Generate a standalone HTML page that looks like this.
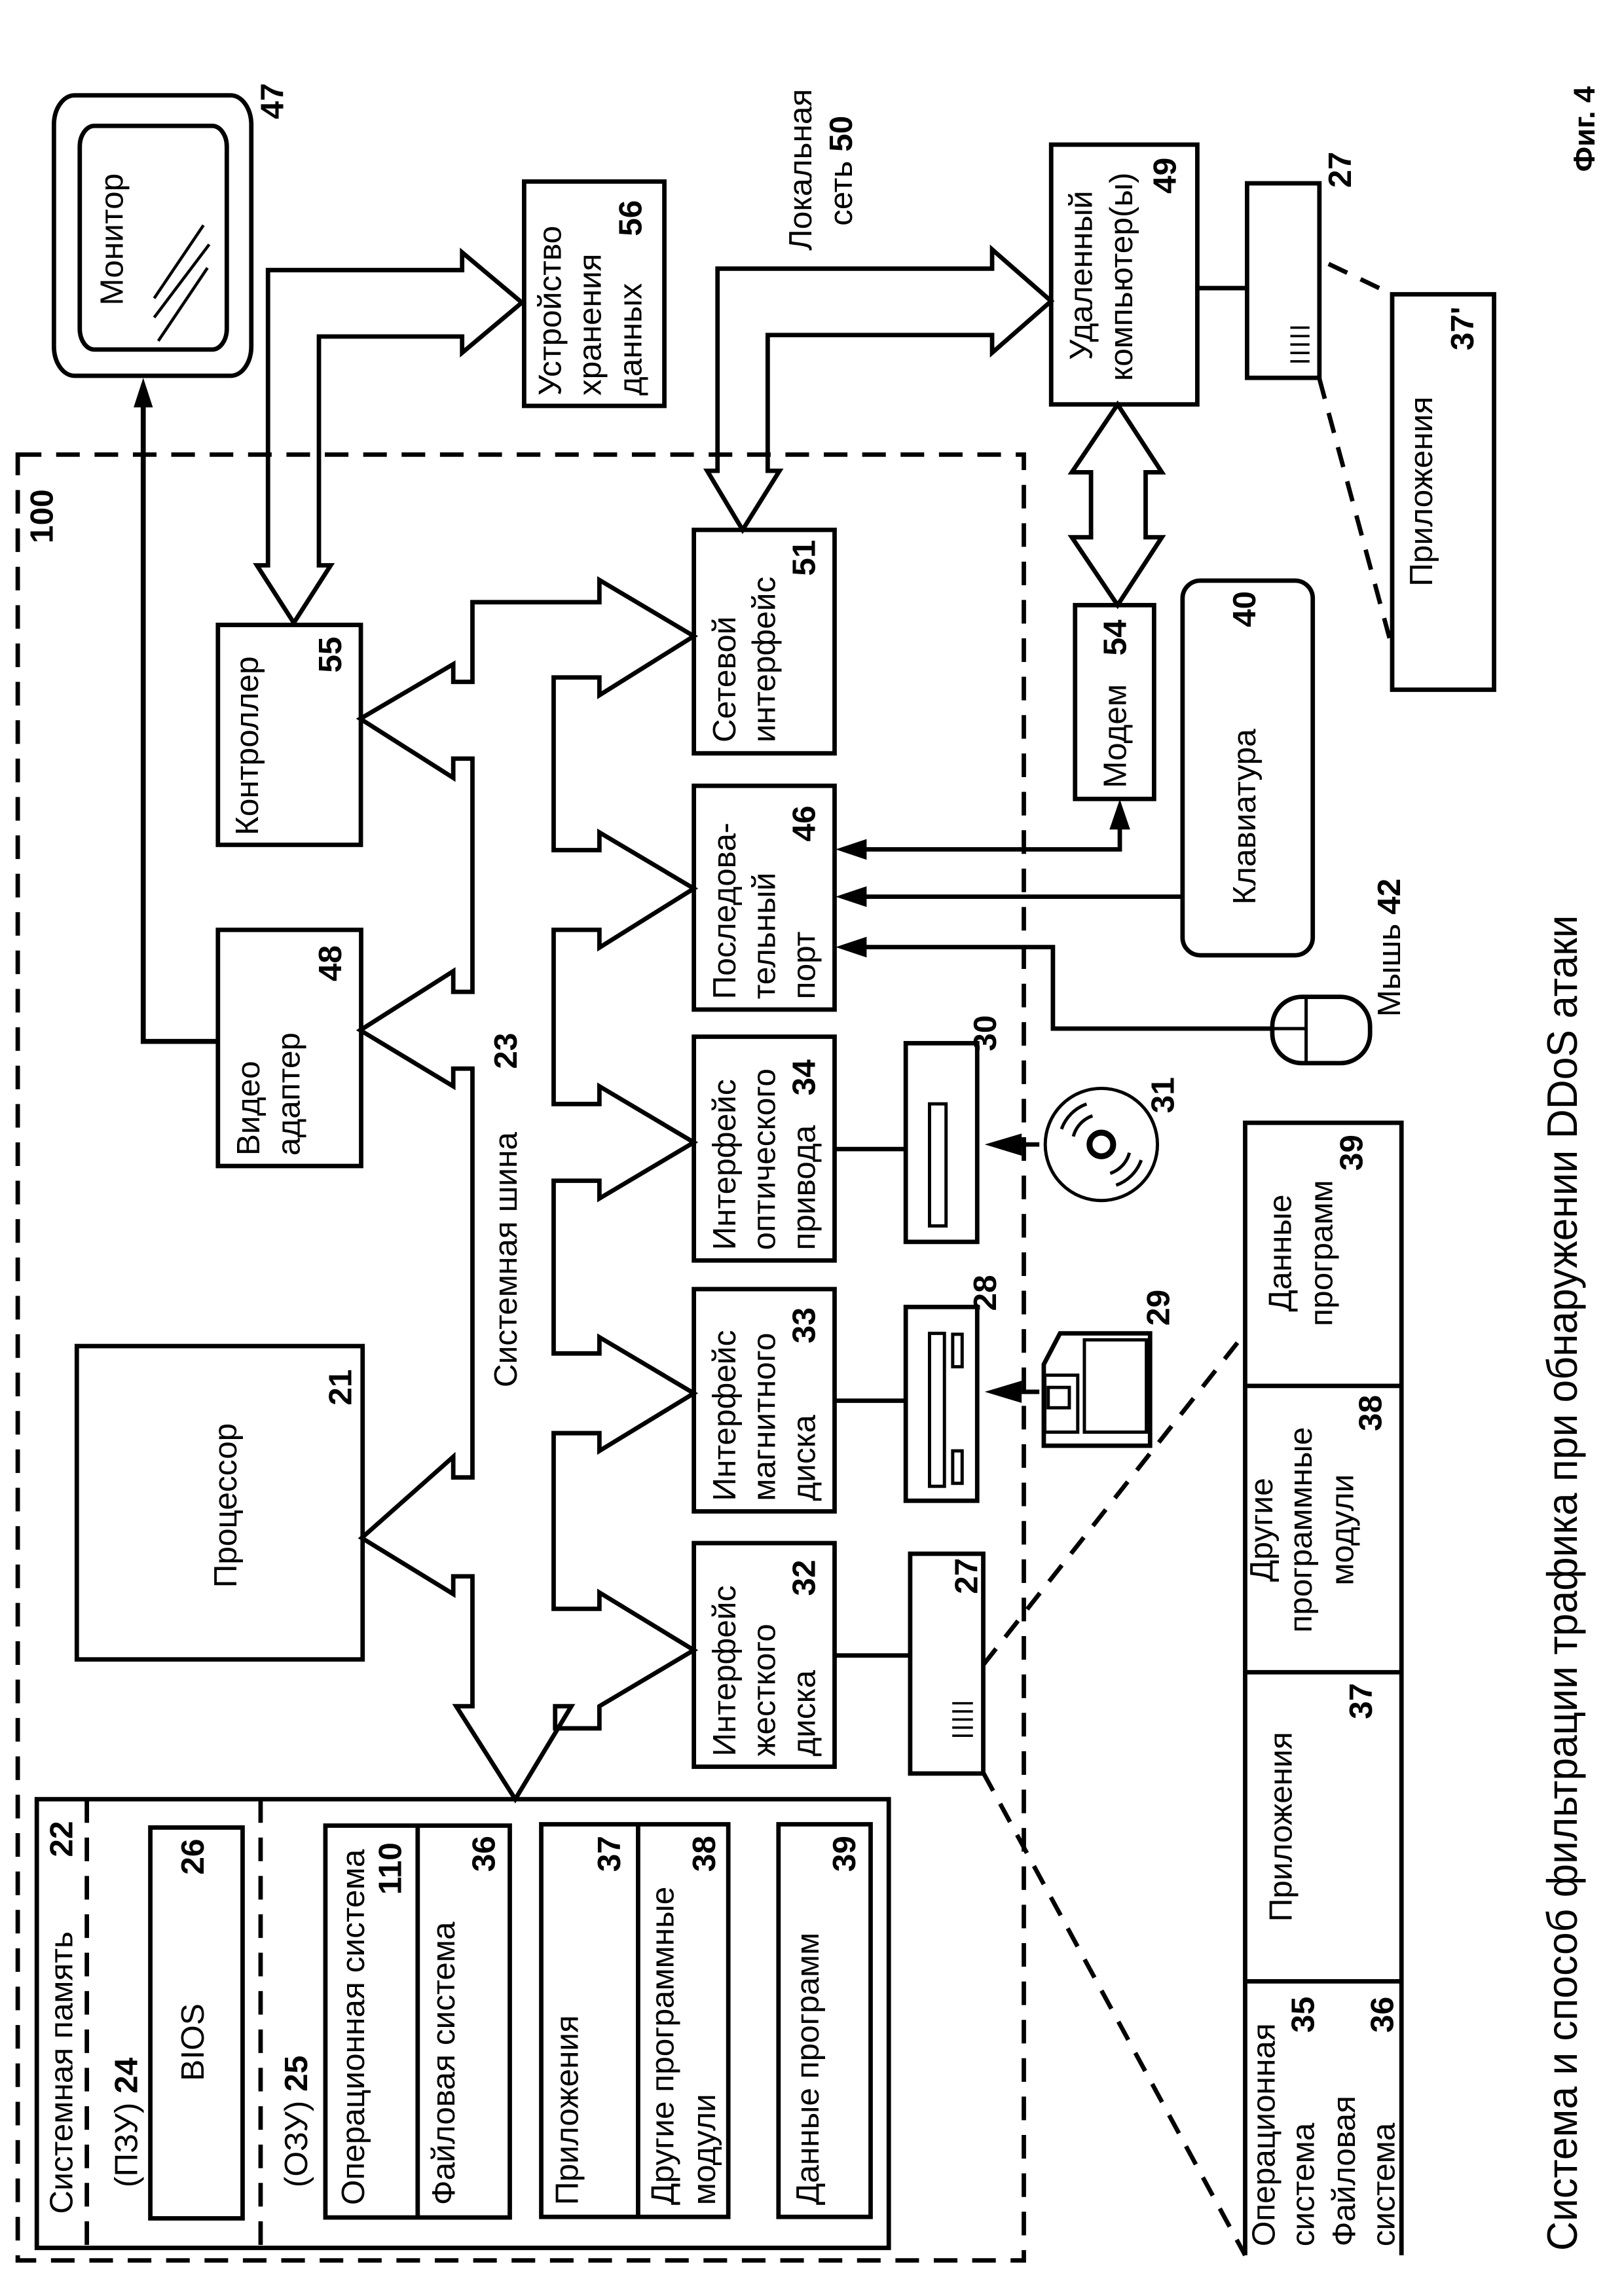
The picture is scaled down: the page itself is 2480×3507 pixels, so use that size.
<!DOCTYPE html>
<html><head><meta charset="utf-8"><style>
html,body{margin:0;padding:0;background:#fff;}
svg{display:block;}
text{font-family:"Liberation Sans","Noto Sans CJK SC",sans-serif;font-size:22px;fill:#000;}
.b{font-weight:bold;}
</style></head><body>
<svg width="2480" height="3507" viewBox="0 0 1100 1555.6" xmlns="http://www.w3.org/2000/svg">
<g fill="none" stroke="#000" stroke-width="3" stroke-linejoin="miter">
<rect x="12" y="308" width="681.5" height="1223.5" stroke-dasharray="16 10"/>
<rect x="36.5" y="64.6" width="133.7" height="190" rx="14" ry="20"/>
<rect x="54" y="85.3" width="99.6" height="151.5" rx="10" ry="14"/>
<line x1="104.4" y1="202.1" x2="137.8" y2="152.6" stroke-width="2"/>
<line x1="104.4" y1="215.1" x2="141.7" y2="165.6" stroke-width="2"/>
<line x1="107.2" y1="231" x2="140.5" y2="181.5" stroke-width="2"/>
<polyline points="147.6,705.6 97,705.6 97,272" stroke-width="3.4"/>
<rect x="147.6" y="423.4" width="96.8" height="149"/>
<rect x="147.6" y="630" width="97" height="160"/>
<rect x="52" y="912" width="193.6" height="212.3"/>
<rect x="355" y="123" width="95" height="152"/>
<rect x="712" y="98" width="99" height="176"/>
<rect x="470" y="359" width="95.3" height="151.4"/>
<rect x="470" y="532.4" width="95.3" height="151.6"/>
<rect x="470" y="702.4" width="95.3" height="151.6"/>
<rect x="470" y="873.4" width="95.3" height="150.6"/>
<rect x="470" y="1045.5" width="95.3" height="151.5"/>
<rect x="728.2" y="410" width="53.5" height="131.3"/>
<rect x="801" y="393.4" width="88.2" height="253.8" rx="12" ry="12"/>
<rect x="844.7" y="124.2" width="49" height="131.8"/>
<rect x="943" y="199.4" width="69" height="267.9"/>
<polygon points="320,408 406,408 406,393 470,431 406,471 406,459 375,459 375,576 406,576 406,564 470,602 406,642 406,630 375,630 375,748 406,748 406,736 470,774 406,812 406,800 375,800 375,917 406,917 406,906 470,944 406,983 406,971 375,971 375,1090 406,1090 406,1079 470,1118 406,1156 406,1171 376,1171 376,1156 387,1156 349,1219 309,1156 320,1156 320,1068 307,1068 307,1080 245,1042 307,987 307,1001 320,1001 320,724 307,724 307,736 244,698 307,658 307,672 320,672 320,514 307,514 307,527 244,487 307,450 307,462 320,462"/>
<polygon points="181.5,383 181.5,183 313,183 313,171 353.5,205 313,239 313,228 216,228 216,383 224,383 199,422 174,383"/>
<polygon points="486,319 486,182 672,182 672,169 712,204 672,239 672,227 520,227 520,319 528,319 503,359 479,319"/>
<polygon points="757,274 787,320 776,320 776,364 787,364 757,410 726,364 739,364 739,320 726,320"/>
<rect x="24.9" y="1219" width="577.1" height="304"/>
<line x1="58.8" y1="1219" x2="58.8" y2="1523" stroke-dasharray="16 10"/>
<line x1="176.5" y1="1219" x2="176.5" y2="1523" stroke-dasharray="16 10"/>
<rect x="101.8" y="1238.2" width="62.5" height="264.8"/>
<rect x="220.4" y="1236.9" width="124.9" height="265.5"/>
<line x1="282.9" y1="1236.9" x2="282.9" y2="1502.4"/>
<rect x="366.6" y="1236" width="126.7" height="266"/>
<line x1="432.2" y1="1236" x2="432.2" y2="1502"/>
<rect x="527.3" y="1236" width="62.4" height="266"/>
<line x1="565.3" y1="1121.6" x2="616.5" y2="1121.6"/>
<line x1="565.3" y1="949" x2="613.5" y2="949"/>
<line x1="565.3" y1="778.5" x2="613.5" y2="778.5"/>
<rect x="616.5" y="1052.7" width="49.5" height="148.9"/>
<rect x="613.5" y="885.5" width="48.4" height="131.3"/>
<rect x="629.6" y="903.4" width="10.1" height="103.6" stroke-width="2.2"/>
<rect x="645.3" y="904" width="6.4" height="22" stroke-width="2.2"/>
<rect x="645.3" y="983" width="6.4" height="22" stroke-width="2.2"/>
<rect x="613.5" y="706.8" width="48.4" height="134.6"/>
<rect x="629.6" y="747.9" width="11.2" height="82.7" stroke-width="2.2"/>
<polygon points="718,903.4 779,903.4 779,979.5 707,979.5 707,924.4"/>
<rect x="734.5" y="907.8" width="42" height="62.5" stroke-width="2.2"/>
<rect x="707.7" y="931.7" width="22.3" height="38.6" stroke-width="2.2"/>
<rect x="710" y="940" width="14.3" height="13.8" stroke-width="2.2"/>
<circle cx="746" cy="775.4" r="38" stroke-width="2.2"/>
<circle cx="746" cy="775.4" r="8" stroke-width="4"/>
<path d="M719,765 A28,28 0 0 1 736,748" stroke-width="2.2"/>
<path d="M727,770 A20,20 0 0 1 740,756" stroke-width="2.2"/>
<path d="M773,786 A28,28 0 0 1 756,803" stroke-width="2.2"/>
<path d="M765,781 A20,20 0 0 1 752,795" stroke-width="2.2"/>
<line x1="692" y1="775.4" x2="704" y2="775.4" stroke-width="3"/>
<line x1="692" y1="943" x2="704" y2="943" stroke-width="3"/>
<polyline points="586,575.5 758.5,575.5 758.5,560"/>
<line x1="586" y1="607.5" x2="801" y2="607.5"/>
<polyline points="586,641.7 713.2,641.7 713.2,696.9 861.8,696.9"/>
<rect x="861.8" y="675.4" width="66.2" height="44.9" rx="20" ry="20"/>
<line x1="884.7" y1="675.4" x2="884.7" y2="720.3" stroke-width="2.2"/>
<line x1="862" y1="696.9" x2="884.7" y2="696.9" stroke-width="2.2"/>
<line x1="811" y1="195.2" x2="844.7" y2="195.2"/>
<line x1="899.9" y1="178.8" x2="943" y2="199.4" stroke-dasharray="14 10"/>
<line x1="893.7" y1="256.6" x2="943" y2="439" stroke-dasharray="14 10"/>
<line x1="666" y1="1128" x2="842.7" y2="904" stroke-dasharray="14 10"/>
<line x1="666" y1="1201" x2="843.4" y2="1528" stroke-dasharray="14 10"/>
<polyline points="843.4,1528 843.4,760.7 949.3,760.7 949.3,1528"/>
<line x1="843.4" y1="939" x2="949.3" y2="939"/>
<line x1="843.4" y1="1133" x2="949.3" y2="1133"/>
<line x1="843.4" y1="1342.4" x2="949.3" y2="1342.4"/>
<g stroke-width="1.6">
<line x1="645" y1="1154" x2="659" y2="1154"/><line x1="645" y1="1159.5" x2="659" y2="1159.5"/><line x1="645" y1="1165" x2="659" y2="1165"/><line x1="645" y1="1170.5" x2="659" y2="1170.5"/><line x1="645" y1="1176" x2="659" y2="1176"/>
<line x1="874" y1="222" x2="887" y2="222"/><line x1="874" y1="227.7" x2="887" y2="227.7"/><line x1="874" y1="233.4" x2="887" y2="233.4"/><line x1="874" y1="239.1" x2="887" y2="239.1"/><line x1="874" y1="244.8" x2="887" y2="244.8"/>
</g>
</g>
<g fill="#000" stroke="none">
<polygon points="97,256 90.5,276 103.5,276"/>
<polygon points="566,575.5 587,568.5 587,582.5"/>
<polygon points="566,607.5 587,600.5 587,614.5"/>
<polygon points="566,641.7 587,634.7 587,648.7"/>
<polygon points="758.5,541.5 751.5,562 765.5,562"/>
<polygon points="667,775.4 692,768 692,783"/>
<polygon points="667,943 692,935.5 692,950.5"/>
</g>
<g>
<text class="b" transform="translate(35.6,349.8) rotate(-90)" text-anchor="middle">100</text>
<text transform="translate(83.2,162.2) rotate(-90)" text-anchor="middle">Монитор</text>
<text class="b" transform="translate(191.8,68.5) rotate(-90)" text-anchor="middle">47</text>
<text transform="translate(174.8,566) rotate(-90)">Контроллер</text>
<text class="b" transform="translate(231,443.6) rotate(-90)" text-anchor="middle">55</text>
<text transform="translate(175.6,783) rotate(-90)">Видео</text>
<text transform="translate(202.8,783) rotate(-90)">адаптер</text>
<text class="b" transform="translate(231,652.7) rotate(-90)" text-anchor="middle">48</text>
<text transform="translate(160,1020) rotate(-90)" text-anchor="middle">Процессор</text>
<text class="b" transform="translate(238,940) rotate(-90)" text-anchor="middle">21</text>
<text transform="translate(350,940) rotate(-90)">Системная шина</text>
<text class="b" transform="translate(350,712) rotate(-90)" text-anchor="middle">23</text>
<text transform="translate(379.8,268) rotate(-90)">Устройство</text>
<text transform="translate(407,268) rotate(-90)">хранения</text>
<text transform="translate(434.5,268) rotate(-90)">данных</text>
<text class="b" transform="translate(434.5,147.8) rotate(-90)" text-anchor="middle">56</text>
<text transform="translate(549.6,115) rotate(-90)" text-anchor="middle">Локальная</text>
<text transform="translate(577,115.7) rotate(-90)" text-anchor="middle">сеть <tspan class="b">50</tspan></text>
<text transform="translate(739.7,186.6) rotate(-90)" text-anchor="middle">Удаленный</text>
<text transform="translate(767,187.5) rotate(-90)" text-anchor="middle">компьютер(ы)</text>
<text class="b" transform="translate(796.4,119) rotate(-90)" text-anchor="middle">49</text>
<text class="b" transform="translate(915,115) rotate(-90)" text-anchor="middle">27</text>
<text transform="translate(970,333) rotate(-90)" text-anchor="middle">Приложения</text>
<text class="b" transform="translate(998,222.6) rotate(-90)" text-anchor="middle">37'</text>
<text class="b" transform="translate(1080,87.4) rotate(-90)" text-anchor="middle" style="font-size:20px">Фиг. 4</text>
<text transform="translate(498,503) rotate(-90)">Сетевой</text>
<text transform="translate(525,503) rotate(-90)">интерфейс</text>
<text class="b" transform="translate(552,378) rotate(-90)" text-anchor="middle">51</text>
<text transform="translate(498,677) rotate(-90)">Последова-</text>
<text transform="translate(525,677) rotate(-90)">тельный</text>
<text transform="translate(552,677) rotate(-90)">порт</text>
<text class="b" transform="translate(552,558) rotate(-90)" text-anchor="middle">46</text>
<text transform="translate(498,847) rotate(-90)">Интерфейс</text>
<text transform="translate(525,847) rotate(-90)">оптического</text>
<text transform="translate(552,847) rotate(-90)">привода</text>
<text class="b" transform="translate(552,730) rotate(-90)" text-anchor="middle">34</text>
<text transform="translate(498,1017) rotate(-90)">Интерфейс</text>
<text transform="translate(525,1017) rotate(-90)">магнитного</text>
<text transform="translate(552,1017) rotate(-90)">диска</text>
<text class="b" transform="translate(552,898) rotate(-90)" text-anchor="middle">33</text>
<text transform="translate(498,1190) rotate(-90)">Интерфейс</text>
<text transform="translate(525,1190) rotate(-90)">жесткого</text>
<text transform="translate(552,1190) rotate(-90)">диска</text>
<text class="b" transform="translate(552,1069) rotate(-90)" text-anchor="middle">32</text>
<text transform="translate(762.7,534) rotate(-90)">Модем</text>
<text class="b" transform="translate(762.7,432) rotate(-90)" text-anchor="middle">54</text>
<text transform="translate(850.4,553.4) rotate(-90)" text-anchor="middle">Клавиатура</text>
<text class="b" transform="translate(850.4,412.7) rotate(-90)" text-anchor="middle">40</text>
<text transform="translate(948.3,689) rotate(-90)">Мышь <tspan class="b">42</tspan></text>
<text class="b" transform="translate(674.6,700) rotate(-90)" text-anchor="middle">30</text>
<text class="b" transform="translate(674.6,876) rotate(-90)" text-anchor="middle">28</text>
<text class="b" transform="translate(662,1067.8) rotate(-90)" text-anchor="middle">27</text>
<text class="b" transform="translate(795,742) rotate(-90)" text-anchor="middle">31</text>
<text class="b" transform="translate(792,886) rotate(-90)" text-anchor="middle">29</text>
<text transform="translate(874.5,849) rotate(-90)" text-anchor="middle">Данные</text>
<text transform="translate(902.5,849) rotate(-90)" text-anchor="middle">программ</text>
<text class="b" transform="translate(922.9,781) rotate(-90)" text-anchor="middle">39</text>
<text transform="translate(861.8,1036.5) rotate(-90)" text-anchor="middle">Другие</text>
<text transform="translate(888.5,1036.5) rotate(-90)" text-anchor="middle">программные</text>
<text transform="translate(916.5,1036.5) rotate(-90)" text-anchor="middle">модули</text>
<text class="b" transform="translate(935.6,957.4) rotate(-90)" text-anchor="middle">38</text>
<text transform="translate(875,1237.7) rotate(-90)" text-anchor="middle">Приложения</text>
<text class="b" transform="translate(929.3,1152.5) rotate(-90)" text-anchor="middle">37</text>
<text transform="translate(863.4,1522) rotate(-90)">Операционная</text>
<text transform="translate(890,1522) rotate(-90)">система</text>
<text transform="translate(917.7,1522) rotate(-90)">Файловая</text>
<text transform="translate(944.5,1522) rotate(-90)">система</text>
<text class="b" transform="translate(890,1365) rotate(-90)" text-anchor="middle">35</text>
<text class="b" transform="translate(943.6,1365) rotate(-90)" text-anchor="middle">36</text>
<text transform="translate(48.9,1500) rotate(-90)">Системная память</text>
<text class="b" transform="translate(48.9,1246) rotate(-90)" text-anchor="middle">22</text>
<text transform="translate(92.8,1482) rotate(-90)">(ПЗУ) <tspan class="b">24</tspan></text>
<text transform="translate(138,1383.7) rotate(-90)" text-anchor="middle">BIOS</text>
<text class="b" transform="translate(138,1258) rotate(-90)" text-anchor="middle">26</text>
<text transform="translate(208,1482) rotate(-90)">(ОЗУ) <tspan class="b">25</tspan></text>
<text transform="translate(246.7,1494) rotate(-90)">Операционная система</text>
<text class="b" transform="translate(271.6,1266) rotate(-90)" text-anchor="middle">110</text>
<text transform="translate(307.8,1494) rotate(-90)">Файловая система</text>
<text class="b" transform="translate(335,1256) rotate(-90)" text-anchor="middle">36</text>
<text transform="translate(391.5,1494) rotate(-90)">Приложения</text>
<text class="b" transform="translate(420,1256) rotate(-90)" text-anchor="middle">37</text>
<text transform="translate(456.2,1494) rotate(-90)">Другие программные</text>
<text transform="translate(484.3,1494) rotate(-90)">модули</text>
<text class="b" transform="translate(484.3,1256) rotate(-90)" text-anchor="middle">38</text>
<text transform="translate(554.4,1494) rotate(-90)">Данные программ</text>
<text class="b" transform="translate(579.3,1256) rotate(-90)" text-anchor="middle">39</text>
<text transform="translate(1068,1525) rotate(-90)" style="font-size:29px" textLength="905" lengthAdjust="spacingAndGlyphs">Система и способ фильтрации трафика при обнаружении DDoS атаки</text>
</g>
</svg>
</body></html>
